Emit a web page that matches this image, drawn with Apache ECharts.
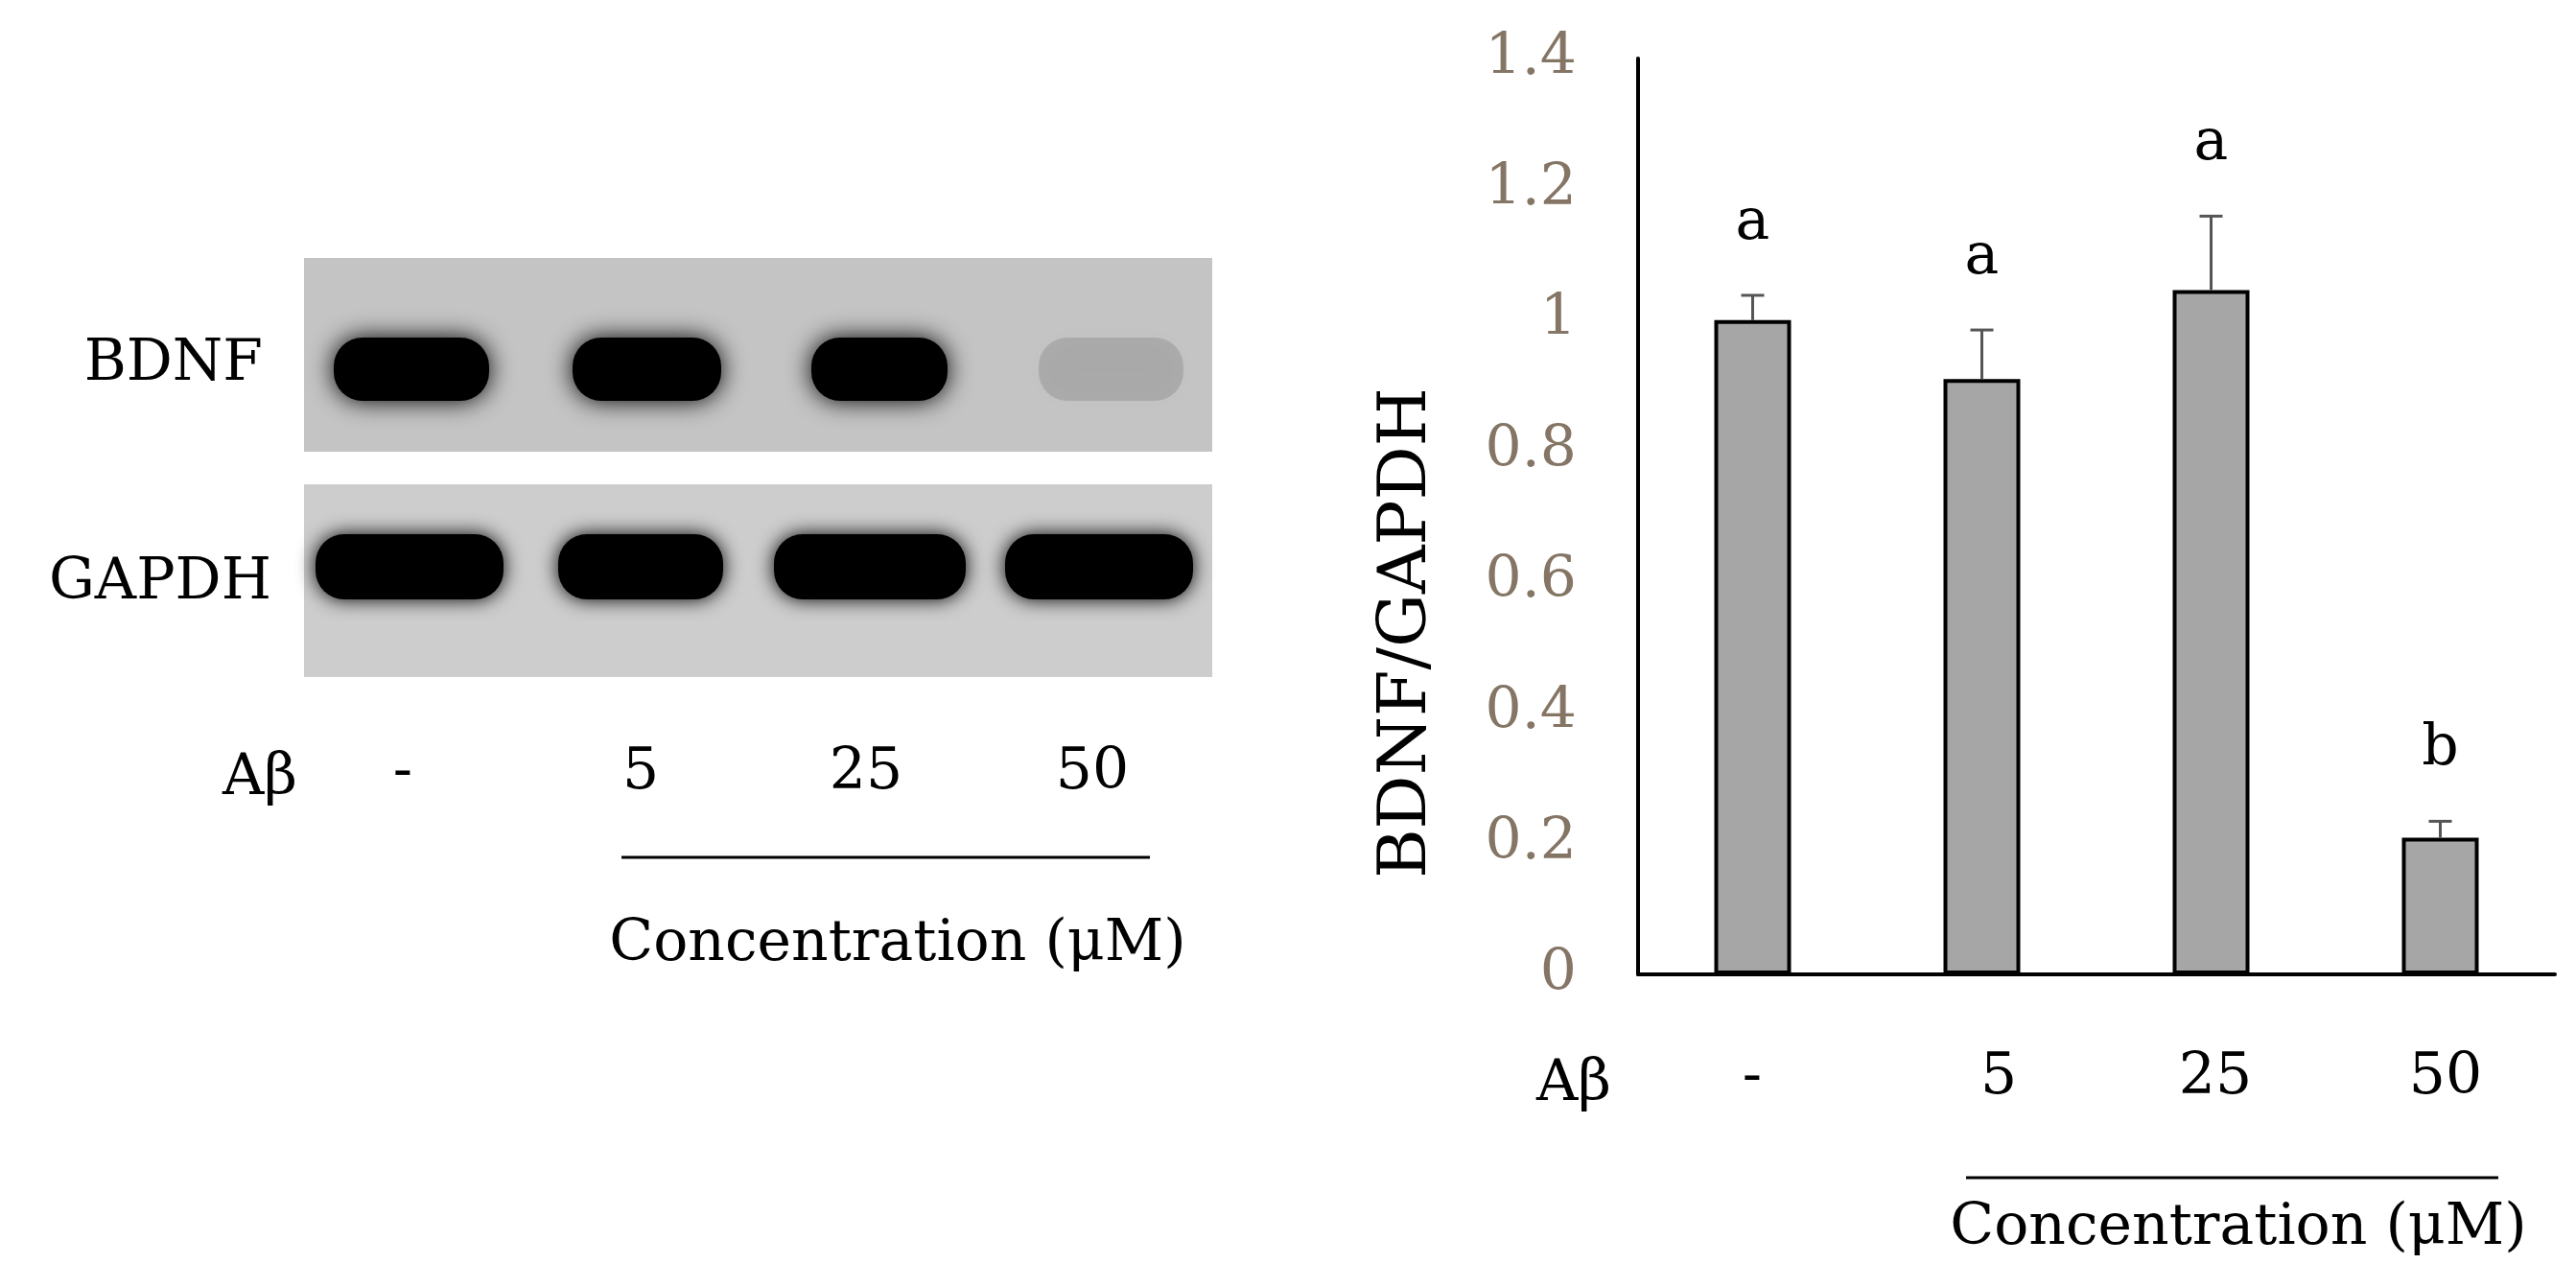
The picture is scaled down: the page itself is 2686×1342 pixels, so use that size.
<!DOCTYPE html>
<html><head><meta charset="utf-8">
<script src="https://cdn.jsdelivr.net/npm/echarts@6/dist/echarts.min.js"></script>
<style>html,body{margin:0;padding:0;background:#fff}#c{width:2686px;height:1342px}</style>
</head><body><div id="c"></div>
<script>
const categories = ['-', '5', '25', '50'];
const values = [1.0, 0.91, 1.046, 0.209];
const errors = [0.038, 0.075, 0.113, 0.025];
const letters = ['a', 'a', 'a', 'b'];
const yTicks = ['0', '0.2', '0.4', '0.6', '0.8', '1', '1.2', '1.4'];
const bdnfIntensity = [1, 1, 1, 0.12];

const F = 'DejaVu Serif';
const chart = echarts.init(document.getElementById('c'));
const g = [];
function txt(x, y, s, size, align, color, rot) {
  g.push({type: 'text', x: x, y: y, rotation: rot || 0,
    style: {text: s, font: size + 'px "' + F + '"', fill: color || '#000', align: align || 'center', verticalAlign: 'middle'}});
}
// blots
g.push({type: 'rect', shape: {x: 317, y: 269, width: 947, height: 202}, style: {fill: '#c4c4c4'}});
g.push({type: 'rect', shape: {x: 317, y: 505, width: 947, height: 201}, style: {fill: '#cdcdcd'}});
const bdnfBands = [[338, 520], [587, 762], [836, 998], [1073, 1244]];
bdnfBands.forEach((b, i) => {
  const a = bdnfIntensity[i];
  g.push({type: 'rect', shape: {x: b[0] + 10, y: 352, width: b[1] - b[0] - 20, height: 66, r: 30},
    style: {fill: 'rgba(0,0,0,' + a + ')', shadowBlur: 26, shadowColor: 'rgba(0,0,0,' + a + ')'}});
});
const gBands = [[321, 533], [574, 762], [799, 1015], [1040, 1252]];
gBands.forEach(b => {
  g.push({type: 'rect', shape: {x: b[0] + 8, y: 557, width: b[1] - b[0] - 16, height: 68, r: 30},
    style: {fill: '#000', shadowBlur: 20, shadowColor: '#000'}});
});
txt(274, 380, 'BDNF', 60, 'right');
txt(283, 608, 'GAPDH', 60, 'right');
txt(271, 812, 'Aβ', 60);
const lx = [420, 668, 903, 1139];
categories.forEach((c, i) => txt(lx[i], 806, c, 60));
g.push({type: 'line', shape: {x1: 648, y1: 894, x2: 1199, y2: 894}, style: {stroke: '#000', lineWidth: 3}});
txt(936, 985, 'Concentration (μM)', 60);
// right panel texts
txt(1468, 660, 'BDNF/GAPDH', 70, 'center', '#000', Math.PI / 2);
txt(1641, 1131, 'Aβ', 60);
const rx = [1827, 2084, 2310, 2550];
categories.forEach((c, i) => txt(rx[i], 1124, c, 60));
g.push({type: 'line', shape: {x1: 2050, y1: 1228, x2: 2605, y2: 1228}, style: {stroke: '#000', lineWidth: 3}});
txt(2334, 1281, 'Concentration (μM)', 60);

chart.setOption({
  animation: false,
  grid: {left: 1708, top: 61, width: 956, height: 955},
  xAxis: {type: 'category', data: categories, axisLabel: {show: false}, axisTick: {show: false},
    axisLine: {lineStyle: {color: '#000', width: 4}}},
  yAxis: {type: 'value', min: 0, max: 1.4, interval: 0.2, splitLine: {show: false},
    axisLine: {show: true, lineStyle: {color: '#000', width: 4}}, axisTick: {show: false},
    axisLabel: {margin: 64, fontFamily: F, fontSize: 60, color: '#857565',
      formatter: v => yTicks[Math.round(v / 0.2)]}},
  series: [
    {type: 'bar', data: values, barWidth: 80,
      itemStyle: {color: '#a6a6a6', borderColor: '#000', borderWidth: 4}},
    {type: 'custom', z: 5, data: values.map((v, i) => [i, v, errors[i], letters[i]]),
      renderItem: (params, api) => {
        const p0 = api.coord([api.value(0), api.value(1)]);
        const p1 = api.coord([api.value(0), api.value(1) + api.value(2)]);
        const st = {stroke: '#555', lineWidth: 3};
        return {type: 'group', children: [
          {type: 'line', shape: {x1: p0[0], y1: p0[1], x2: p1[0], y2: p1[1]}, style: st},
          {type: 'line', shape: {x1: p1[0] - 12, y1: p1[1], x2: p1[0] + 12, y2: p1[1]}, style: st},
          {type: 'text', x: p1[0], y: p1[1] - 75, style: {text: letters[params.dataIndex],
            font: '60px "' + F + '"', fill: '#000', align: 'center', verticalAlign: 'middle'}}
        ]};
      }}
  ],
  graphic: g
});
</script></body></html>
